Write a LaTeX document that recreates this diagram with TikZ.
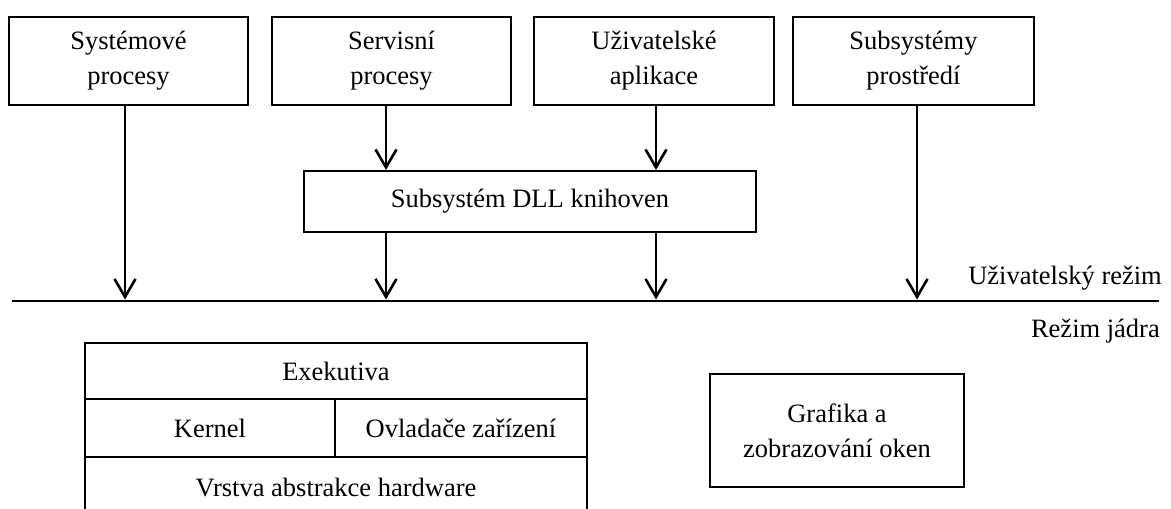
\documentclass[tikz,border=0pt]{standalone}
\usepackage{fontspec}
\setmainfont{Liberation Serif}
\usetikzlibrary{arrows.meta}
\newcommand{\fnt}{\fontsize{26.5}{35}\selectfont}
\begin{document}
\begin{tikzpicture}[x=1pt,y=-1pt,
  box/.style={draw,line width=2.6pt,inner sep=0pt,outer sep=0pt,align=center,font=\fnt},
  lbl/.style={inner sep=0pt,font=\fnt},
  arr/.style={line width=2.6pt,-{Straight Barb[length=18pt,width=21pt]}}]
\useasboundingbox (0,0) rectangle (1171,509);
% top boxes
\node[box,minimum width=239pt,minimum height=88pt] (sys) at (128.5,61) {Systémové\\procesy};
\node[box,minimum width=239pt,minimum height=88pt] (ser) at (391.5,61) {Servisní\\procesy};
\node[box,minimum width=240pt,minimum height=88pt] (uzi) at (654,61) {Uživatelské\\aplikace};
\node[box,minimum width=241pt,minimum height=88pt] (sub) at (913.5,61) {Subsystémy\\prostředí};
\node[box,minimum width=452pt,minimum height=61pt] (dll) at (530,201.5) {Subsystém DLL knihoven};
% mode line
\coordinate (L) at (12,301);
\coordinate (R) at (1159,301);
\draw[line width=2.6pt] (L) -- (R);
\node[lbl,anchor=base east] (um) at (1162,284) {Uživatelský režim};
\node[lbl,anchor=base east] (kj) at (1160,337) {Režim jádra};
% arrows
\coordinate (s1) at (125,105);
\coordinate (s2) at (386,105);
\coordinate (s3) at (656,105);
\coordinate (s4) at (917,105);
\coordinate (Lt) at (0,299.5);
\coordinate (Dt) at (0,170);
\draw[arr] (s1) -- (s1 |- Lt);
\draw[arr] (s2) -- (s2 |- Dt);
\draw[arr] (s3) -- (s3 |- Dt);
\draw[arr] (s2 |- dll.south) -- (s2 |- Lt);
\draw[arr] (s3 |- dll.south) -- (s3 |- Lt);
\draw[arr] (s4) -- (s4 |- Lt);
% kernel stack
\node[box,minimum width=502pt,minimum height=56pt] (exe) at (336,371) {Exekutiva};
\node[box,minimum width=250pt,minimum height=58pt] (ker) at (210,428) {Kernel};
\node[box,minimum width=252pt,minimum height=58pt] (ovl) at (461,428) {Ovladače zařízení};
\coordinate (B) at (0,509);
\draw[line width=2.6pt] (ker.south west) -- (ker.south west |- B);
\draw[line width=2.6pt] (ovl.south east) -- (ovl.south east |- B);
\node[lbl] (hal) at (336,488) {Vrstva abstrakce hardware};
% graphics
\node[box,minimum width=254pt,minimum height=113pt] (gra) at (837,430.5) {Grafika a\\zobrazování oken};
\end{tikzpicture}
\end{document}
